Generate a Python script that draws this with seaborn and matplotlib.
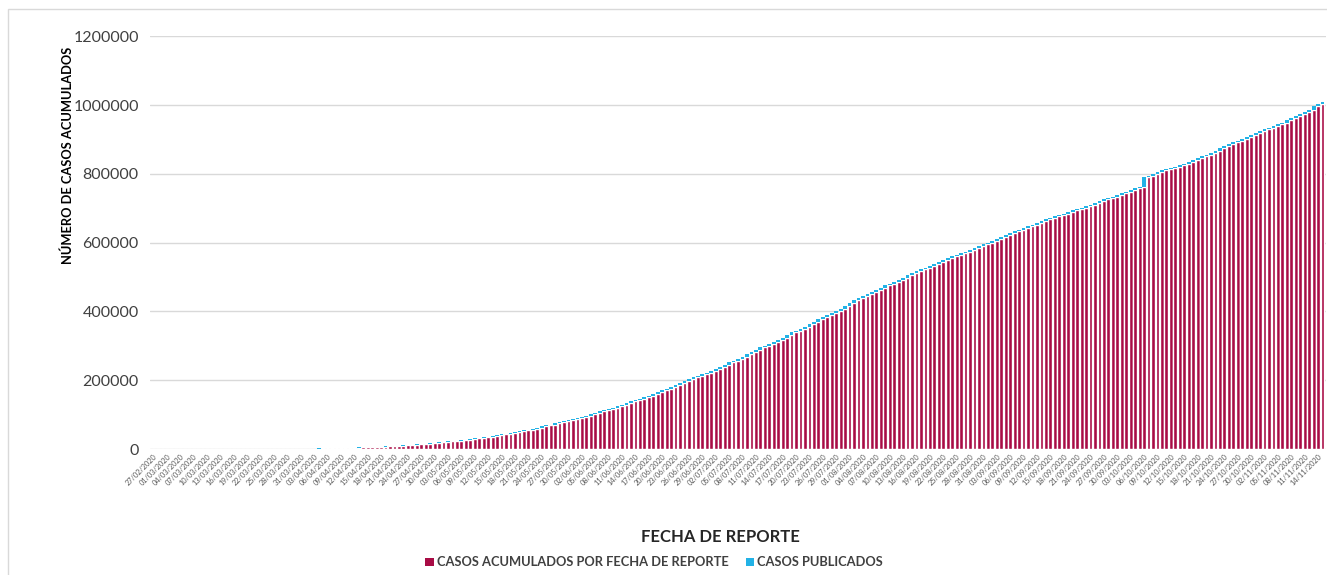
import datetime as dt

import matplotlib
matplotlib.use("Agg")
import matplotlib.pyplot as plt
from matplotlib.patches import Patch, Rectangle
import pandas as pd
import seaborn as sns

# Fechas de reporte: 27/02/2020 .. 15/11/2020 (una barra por día)
START_DATE = dt.date(2020, 2, 27)
N_DAYS = 263

# Casos acumulados por fecha de reporte (barra roja)
acumulados = [
    # 27/02 - 11/03
    0, 1, 2, 4, 4, 5, 5, 5, 5, 6, 6, 7, 7, 7,
    # 12/03 - 31/03
    8, 12, 16, 26, 41, 53, 82, 93, 118, 164, 203, 251, 316, 367, 405, 475,
    585, 717, 848, 993,
    # abril
    1094, 1215, 1378, 1510, 1688, 1890, 2143, 2439, 2785, 3181,
    3441, 3844, 4219, 4661, 5014, 5399, 5847, 6297, 6875, 7497,
    8261, 8772, 9501, 10544, 11633, 12872, 13842, 14677, 15529, 16752,
    # mayo
    17799, 19224, 20739, 22088, 23471, 24905, 26025, 27634, 29616, 31522,
    33460, 35022, 36327, 38324, 40186, 42595, 45032, 47144, 49219, 51633,
    54346, 56594, 59567, 62527, 65856, 68620, 71105, 74560, 78023, 81400,
    84627,
    # junio
    87512, 90664, 93435, 97326, 101238, 105680, 110026, 113619, 117103, 120102,
    124301, 129184, 133974, 139196, 142690, 146837, 150264, 154863, 159793, 165455,
    170485, 175202, 180545, 185122, 191410, 196847, 202951, 208392, 212802, 216852,
    # julio
    220657, 226089, 231770, 238511, 245251, 252165, 256848, 261750, 268008, 275003,
    282283, 289174, 295268, 299750, 304435, 311486, 317635, 324041, 331298, 338913,
    344224, 349396, 356255, 362274, 370712, 378285, 385036, 390516, 395489, 402697,
    408449,
    # agosto
    416179, 424637, 434193, 439046, 443813, 449961, 456100, 462690, 469407, 475902,
    480278, 485836, 492522, 498380, 505751, 511369, 517714, 522162, 525733, 531239,
    537031, 543806, 549734, 556216, 560164, 563705, 568621, 573888, 579914, 585738,
    591712,
    # septiembre
    595841, 599560, 606036, 610957, 616894, 623090, 629409, 634023, 637509, 642860,
    647507, 652364, 658299, 663973, 668381, 671716, 676487, 680931, 684113, 688954,
    694121, 697663, 700580, 705263, 710049, 715457, 720858, 726431, 730317, 733717,
    # octubre
    738163, 743216, 748315, 753090, 757953, 761665, 789780, 794608, 799188, 804488,
    809751, 814328, 817503, 821045, 825340, 829396, 834910, 841661, 847108, 851227,
    854926, 860714, 867559, 874171, 880775, 886800, 891160, 895326, 901268, 906863,
    912811,
    # 01/11 - 15/11
    918811, 924962, 929392, 933155, 938405, 943630, 949197, 955128, 961938, 967825,
    972785, 978531, 986177, 997393, 1003253,
]

# Casos publicados en el día (segmento celeste encima)
publicados = [
    1, 1, 2, 0, 1, 0, 0, 0, 1, 0, 1, 0, 0, 1,
    4, 4, 10, 15, 12, 29, 11, 25, 46, 39, 48, 65, 51, 38, 70, 110, 132, 131, 145, 101,
    121, 163, 132, 178, 202, 253, 296, 346, 396, 260,
    403, 375, 442, 353, 385, 448, 450, 578, 622, 764,
    511, 729, 1043, 1089, 1239, 970, 835, 852, 1223, 1047,
    1425, 1515, 1349, 1383, 1434, 1120, 1609, 1982, 1906, 1938,
    1562, 1305, 1997, 1862, 2409, 2437, 2112, 2075, 2414, 2713,
    2248, 2973, 2960, 3329, 2764, 2485, 3455, 3463, 3377, 3227, 2885,
    3152, 2771, 3891, 3912, 4442, 4346, 3593, 3484, 2999, 4199,
    4883, 4790, 5222, 3494, 4147, 3427, 4599, 4930, 5662, 5030,
    4717, 5343, 4577, 6288, 5437, 6104, 5441, 4410, 4050, 3805,
    5432, 5681, 6741, 6740, 6914, 4683, 4902, 6258, 6995, 7280,
    6891, 6094, 4482, 4685, 7051, 6149, 6406, 7257, 7615, 5311,
    5172, 6859, 6019, 8438, 7573, 6751, 5480, 4973, 7208, 5752, 7730,
    8458, 9556, 4853, 4767, 6148, 6139, 6590, 6717, 6495, 4376,
    5558, 6686, 5858, 7371, 5618, 6345, 4448, 3571, 5506, 5792,
    6775, 5928, 6482, 3948, 3541, 4916, 5267, 6026, 5824, 5974, 4129,
    3719, 6476, 4921, 5937, 6196, 6319, 4614, 3486, 5351, 4647,
    4857, 5935, 5674, 4408, 3335, 4771, 4444, 3182, 4841, 5167,
    3542, 2917, 4683, 4786, 5408, 5401, 5573, 3886, 3400, 4446,
    5053, 5099, 4775, 4863, 3712, 28115, 4828, 4580, 5300, 5263,
    4577, 3175, 3542, 4295, 4056, 5514, 6751, 5447, 4119, 3699,
    5788, 6845, 6612, 6604, 6025, 4360, 4166, 5942, 5595, 5948, 6000,
    6151, 4430, 3763, 5250, 5225, 5567, 5931, 6810, 5887, 4960,
    5746, 7646, 11216, 5860, 6143,
]

Y_TICKS = [0, 200000, 400000, 600000, 800000, 1000000, 1200000]

RED = "#A80C45"
CYAN = "#22B2E6"

sns.set_theme(style="white")
plt.rcParams["font.family"] = ["Lato", "DejaVu Sans"]

fechas = [(START_DATE + dt.timedelta(days=i)).strftime("%d/%m/%Y") for i in range(N_DAYS)]
df = pd.DataFrame({"fecha": fechas, "acumulados": acumulados, "publicados": publicados})

fig = plt.figure(figsize=(13.27, 5.75), dpi=100)
ax = fig.add_axes([0.113, 0.219, 0.886, 0.718])

sns.barplot(data=df, x="fecha", y="acumulados", color=RED, saturation=1,
            width=0.85, ax=ax, zorder=3)
ax.bar(range(N_DAYS), df["publicados"], bottom=df["acumulados"], width=0.85,
       color=CYAN, zorder=3, linewidth=0)

ax.set_ylim(0, 1200000)
ax.set_yticks(Y_TICKS)
ax.set_yticklabels([str(v) for v in Y_TICKS], fontsize=11.5, color="#404040")
ax.yaxis.grid(True, color="#D9D9D9", linewidth=1, zorder=0)
ax.set_xlim(-0.8, N_DAYS - 0.3)

tick_pos = list(range(0, N_DAYS, 3))
ax.set_xticks(tick_pos)
ax.set_xticklabels([fechas[i] for i in tick_pos], rotation=45, ha="right",
                   rotation_mode="anchor", fontsize=5.3, color="#595959")
ax.tick_params(axis="both", length=0, pad=3)
ax.tick_params(axis="y", pad=8)
for s in ax.spines.values():
    s.set_visible(False)
ax.set_xlabel("")
ax.set_ylabel("")

fig.text(0.051, 0.73, "NÚMERO DE CASOS ACUMULADOS", rotation=90, ha="center",
         va="center", fontsize=9.3, fontweight="bold", color="#000000")
fig.text(0.543, 0.066, "FECHA DE REPORTE", ha="center", va="center",
         fontsize=12, fontweight="bold", color="#262626")

handles = [Patch(facecolor=RED, edgecolor="none"), Patch(facecolor=CYAN, edgecolor="none")]
fig.legend(handles, ["CASOS ACUMULADOS POR FECHA DE REPORTE", "CASOS PUBLICADOS"],
           loc="center", bbox_to_anchor=(0.493, 0.022), ncol=2, frameon=False,
           handlelength=0.65, handleheight=0.65, handletextpad=0.25, columnspacing=1.3,
           prop={"size": 9.3, "weight": "bold"}, labelcolor="#404040")

fig.add_artist(Rectangle((0.006, -0.01), 1.0, 0.994, transform=fig.transFigure,
                         fill=False, edgecolor="#D9D9D9", linewidth=1))

fig.savefig("out.png", dpi=100)
